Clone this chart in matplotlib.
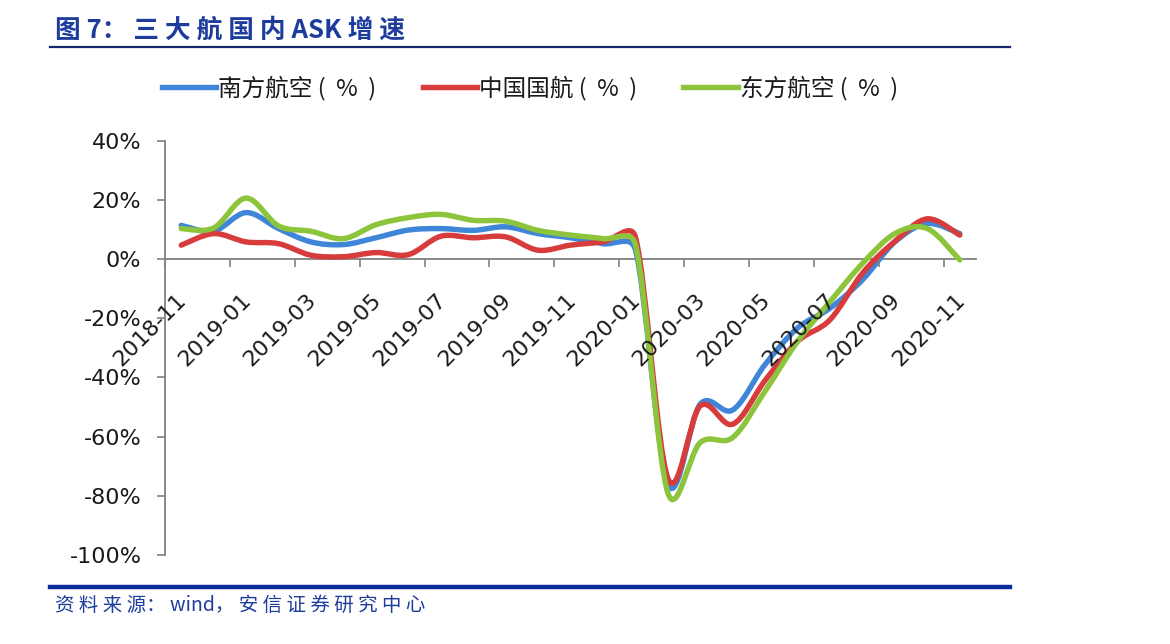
import numpy as np
import matplotlib
matplotlib.use("Agg")
import matplotlib.pyplot as plt
from matplotlib.path import Path
from matplotlib.patches import PathPatch
from matplotlib.lines import Line2D
from matplotlib.transforms import ScaledTranslation

plt.rcParams['font.family'] = ['Noto Sans CJK SC', 'DejaVu Sans']

months = ["2018-11", "2018-12", "2019-01", "2019-02", "2019-03", "2019-04", "2019-05",
          "2019-06", "2019-07", "2019-08", "2019-09", "2019-10", "2019-11", "2019-12",
          "2020-01", "2020-02", "2020-03", "2020-04", "2020-05", "2020-06", "2020-07",
          "2020-08", "2020-09", "2020-10", "2020-11"]

csa = [11.4, 9.4, 15.7, 10.3, 5.8, 4.9, 7.2, 9.8, 10.3, 9.7, 10.9, 8.6, 7.2, 5.2, 3.2,
       -76.0, -49.0, -51.0, -35.6, -23.3, -16.6, -7.0, 5.8, 12.0, 8.6]
cca = [4.7, 8.6, 5.8, 5.2, 1.3, 0.8, 2.2, 1.5, 7.7, 7.2, 7.5, 3.0, 4.7, 5.8, 7.5,
       -74.0, -49.6, -55.8, -41.0, -27.8, -20.5, -4.8, 6.0, 13.6, 8.1]
cea = [10.3, 10.5, 20.6, 11.2, 9.4, 6.9, 11.6, 14.0, 15.1, 13.1, 12.8, 9.7, 8.1, 6.9, 5.0,
       -79.0, -62.0, -60.3, -44.6, -27.8, -14.4, -1.5, 8.6, 10.3, -0.3]

series_names = ["南方航空 (  %  )", "中国国航 (  %  )", "东方航空 (  %  )"]
series_values = [csa, cca, cea]
series_colors = ["#3f86d8", "#d83b3b", "#8cc43c"]

y_ticks = [-100, -80, -60, -40, -20, 0, 20, 40]

W, H = 1170, 644
fig = plt.figure(figsize=(W / 100, H / 100), dpi=100)
fig.patch.set_facecolor("white")

ax_l, ax_r, ax_t, ax_b = 165, 976, 140.7, 555
ax = fig.add_axes([ax_l / W, 1 - ax_b / H, (ax_r - ax_l) / W, (ax_b - ax_t) / H])
ax.set_xlim(-0.5, len(months) - 0.5)
ax.set_ylim(-100, 40)
sx = (ax_r - ax_l) / len(months)      # px per category
sy = (ax_b - ax_t) / 140.0            # px per percent


def smooth_path(xs, ys):
    """Excel-style smoothed line: cubic Bezier with limited control arms."""
    pts = np.column_stack([xs, ys]).astype(float)
    scale = np.array([sx, sy])
    n = len(pts)
    verts = [pts[0]]
    codes = [Path.MOVETO]
    f = 1.0 / 6.0
    for i in range(n - 1):
        p0 = pts[i - 1] if i > 0 else pts[i]
        p1 = pts[i]
        p2 = pts[i + 1]
        p3 = pts[i + 2] if i + 2 < n else pts[i + 1]
        d02 = np.linalg.norm((p2 - p0) * scale)
        d13 = np.linalg.norm((p3 - p1) * scale)
        d12 = np.linalg.norm((p2 - p1) * scale)
        f1 = f if d02 / 6 < d12 / 2 else (d12 / d02 / 2 if d02 > 0 else 0)
        f2 = f if d13 / 6 < d12 / 2 else (d12 / d13 / 2 if d13 > 0 else 0)
        c1 = p1 + (p2 - p0) * f1
        c2 = p2 - (p3 - p1) * f2
        verts += [c1, c2, p2]
        codes += [Path.CURVE4] * 3
    return Path(verts, codes)


x = np.arange(len(months))
handles = []
for name, vals, col in zip(series_names, series_values, series_colors):
    patch = PathPatch(smooth_path(x, vals), facecolor="none", edgecolor=col,
                      lw=3.9, capstyle="round", joinstyle="round", zorder=2)
    ax.add_patch(patch)
    handles.append(Line2D([], [], color=col, lw=3.9, label=name))
ax.set_axisbelow(False)

# spines
for s in ["top", "right"]:
    ax.spines[s].set_visible(False)
ax.spines["bottom"].set_position(("data", 0))
for s in ["bottom", "left"]:
    ax.spines[s].set_color("#808080")
    ax.spines[s].set_linewidth(1.3)
    ax.spines[s].set_zorder(1.9)

tick_font = "DejaVu Sans"

# y axis
ax.set_yticks(y_ticks)
ax.set_yticklabels([f"{v}%" for v in y_ticks], fontfamily=tick_font)
ax.tick_params(axis="y", direction="out", length=6, width=1.2, color="#808080",
               labelsize=16, labelcolor="#1a1a1a", pad=11)

# x axis
ax.set_xticks(x[::2])
ax.set_xticklabels(months[::2], fontfamily=tick_font)
ax.set_xticks(np.arange(-0.5, len(months) - 1, 2), minor=True)
ax.tick_params(axis="x", which="major", length=0, labelsize=16, labelcolor="#1a1a1a", pad=27)
ax.tick_params(axis="x", which="minor", direction="out", length=6, width=1.2, color="#808080")
for lab in ax.get_xticklabels():
    lab.set_rotation(45)
    lab.set_ha("right")
    lab.set_va("center")
    lab.set_rotation_mode("anchor")
    lab.set_transform(lab.get_transform() + ScaledTranslation(0.02, 0, fig.dpi_scale_trans))

# legend
fig.legend(handles=handles, loc="center", bbox_to_anchor=(530 / W, 1 - 88 / H),
           ncol=3, frameon=False, fontsize=17, handlelength=2.3, handletextpad=0.1,
           columnspacing=1.95, borderpad=0, labelcolor="#1a1a1a")

# title and decorations
fig.text(55 / W, 1 - 30 / H, "图 7： 三 大 航 国 内 ASK 增 速", fontsize=18.5, fontweight="bold",
         color="#1d3c9c", ha="left", va="center")
fig.add_artist(Line2D([50 / W, 1010 / W], [1 - 47 / H, 1 - 47 / H], color="#15286e", lw=1.6))
fig.add_artist(Line2D([50 / W, 1010 / W], [1 - 587 / H, 1 - 587 / H], color="#0b2d9c", lw=3.2))
fig.text(55 / W, 1 - 605 / H, "资 料 来 源： wind， 安 信 证 券 研 究 中 心", fontsize=14,
         style="italic", color="#1d3c9c", ha="left", va="center")

fig.savefig("out.png", dpi=100, facecolor="white")
